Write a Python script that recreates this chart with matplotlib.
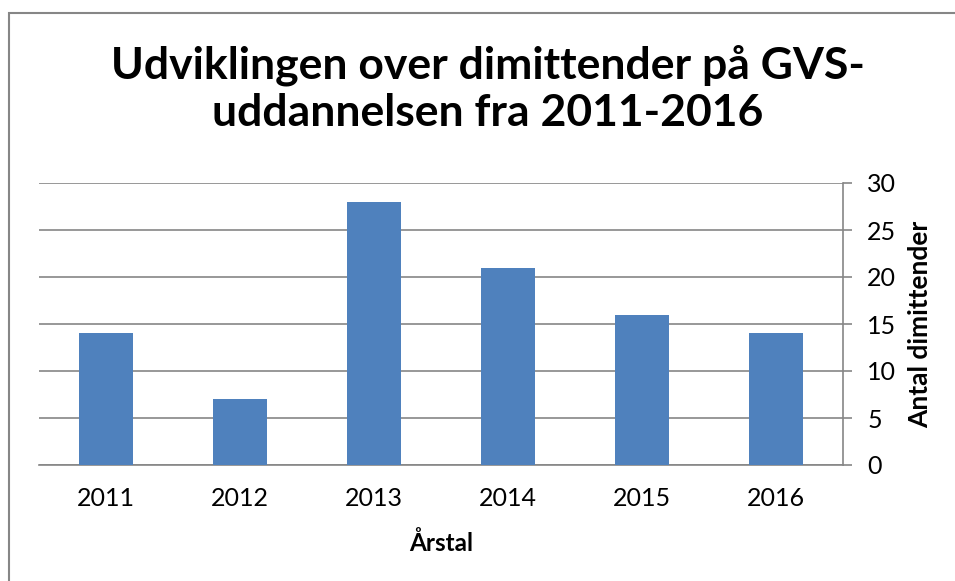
import matplotlib.pyplot as plt
from matplotlib.patches import Rectangle

years = ['2011', '2012', '2013', '2014', '2015', '2016']
dimittender = [14, 7, 28, 21, 16, 14]
yticks = [0, 5, 10, 15, 20, 25, 30]

plt.rcParams['font.family'] = ['Lato', 'DejaVu Sans']

fig = plt.figure(figsize=(9.55, 5.81), dpi=100)
ax = fig.add_axes([39 / 955, 1 - 465 / 581, 804 / 955, 282 / 581])

x = range(len(years))
ax.bar(x, dimittender, width=0.4, color='#4F81BD', zorder=3)
ax.set_xlim(-0.5, len(years) - 0.5)
ax.set_ylim(0, 30)
ax.set_xticks(list(x))
ax.set_xticklabels(years)
ax.set_yticks(yticks)

ax.yaxis.tick_right()
ax.yaxis.set_label_position('right')
ax.grid(axis='y', color='#868686', linewidth=1.2, zorder=0)
for s in ['top', 'left']:
    ax.spines[s].set_visible(False)
for s in ['right', 'bottom']:
    ax.spines[s].set_color('#868686')
    ax.spines[s].set_linewidth(1.2)
ax.tick_params(axis='x', length=0, labelsize=18, pad=16)
ax.tick_params(axis='y', length=6.5, color='#868686', width=1.2, labelsize=18, pad=11)

ax.set_xlabel('Årstal', fontsize=17.5, fontweight='bold', va='center')
ax.xaxis.set_label_coords(0.5, (465 - 543) / 282)
ax.set_ylabel('Antal dimittender', fontsize=19, fontweight='bold', va='center', ha='center')
ax.yaxis.set_label_coords((920 - 39) / 804, 0.5)

fig.text(488 / 955, 1 - 79 / 581, 'Udviklingen over dimittender på GVS-',
         ha='center', va='baseline', fontsize=32, fontweight='bold')
fig.text(488 / 955, 1 - 126 / 581, 'uddannelsen fra 2011-2016',
         ha='center', va='baseline', fontsize=32, fontweight='bold')

fig.patches.append(Rectangle((9 / 955, -0.1), 1.2, 1 - 13 / 581 + 0.1, transform=fig.transFigure,
                             fill=False, edgecolor='#868686', linewidth=1.5))

fig.savefig('out.png', dpi=100)
